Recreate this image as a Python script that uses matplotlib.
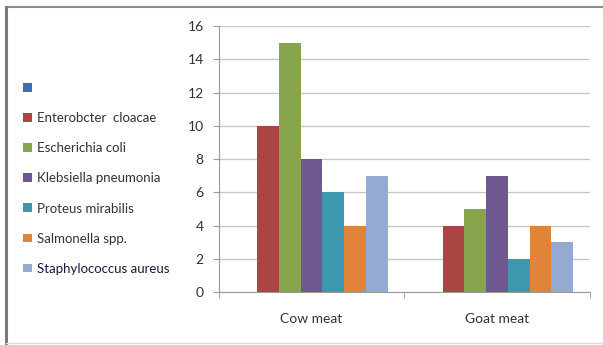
import numpy as np
import matplotlib.pyplot as plt
from matplotlib.patches import Patch
from matplotlib.lines import Line2D

# sample groups and isolate counts (first series is an empty placeholder)
groups = ["Cow meat", "Goat meat"]
series_names = ["", "Enterobcter  cloacae", "Escherichia coli", "Klebsiella pneumonia",
                "Proteus mirabilis", "Salmonella spp.", "Staphylococcus aureus"]
cow_counts = [np.nan, 10, 15, 8, 6, 4, 7]
goat_counts = [np.nan, 4, 5, 7, 2, 4, 3]
colors = ["#3C6EB4", "#A94543", "#88A54E", "#6F578F", "#3D97AE", "#E0843A", "#95AAD3"]

plt.rcParams["font.family"] = ["Lato", "DejaVu Sans"]

fig = plt.figure(figsize=(6.03, 3.45), dpi=100)
ax = fig.add_axes([0.363, 0.1536, 0.615, 0.771])

n = len(series_names)
bar_w = 0.117
x = np.arange(len(groups)) + 0.5
values = np.array([cow_counts, goat_counts])
for i in range(n):
    offs = (i - (n - 1) / 2) * bar_w
    ax.bar(x + offs, values[:, i], width=bar_w, color=colors[i], zorder=3)

ax.set_xlim(0, 2)
ax.set_ylim(0, 16)
ax.set_yticks(range(0, 17, 2))
ax.set_xticks(x)
ax.set_xticklabels(groups)
ax.set_xticks([0, 1, 2], minor=True)
ax.tick_params(axis="x", which="major", length=0, pad=15, labelsize=10, labelcolor="#333333")
ax.tick_params(axis="x", which="minor", length=4, color="#9a9a9a", direction="out")
ax.tick_params(axis="y", length=4, color="#9a9a9a", labelsize=10, labelcolor="#333333", pad=7)
ax.grid(axis="y", color="#c8c8c8", lw=1, zorder=0)
for s in ["top", "right"]:
    ax.spines[s].set_visible(False)
for s in ["left", "bottom"]:
    ax.spines[s].set_color("#9a9a9a")

handles = [Patch(facecolor=c) for c in colors]
leg = fig.legend(handles, series_names, loc="upper left", bbox_to_anchor=(0.03, 0.777),
                 frameon=False, fontsize=9.5, handlelength=0.65, handleheight=0.65,
                 handletextpad=0.4, labelspacing=1.37, borderaxespad=0)
for t in leg.get_texts():
    t.set_color("#333333")
leg.get_texts()[-1].set_color("#1a1a40")

# outer frame
fig.add_artist(Line2D([0.0095, 1.0], [0.98, 0.98], color="#8c8c8c", lw=1.5))
fig.add_artist(Line2D([0.0095, 0.0095], [0.0, 0.98], color="#7a7a7a", lw=2.2))
fig.add_artist(Line2D([0.0095, 1.0], [0.006, 0.006], color="#dddddd", lw=1))

fig.savefig("out.png", dpi=100)
